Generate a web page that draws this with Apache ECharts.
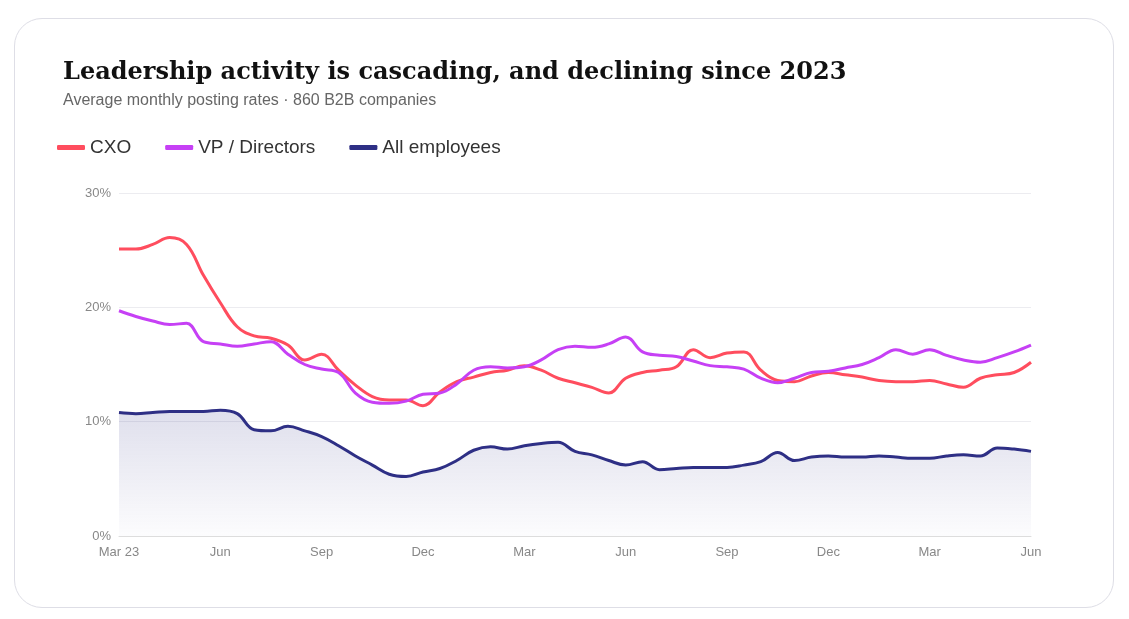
<!DOCTYPE html>
<html>
<head>
<meta charset="utf-8">
<script src="https://cdn.jsdelivr.net/npm/echarts@6/dist/echarts.min.js"></script>
<style>
  html, body { margin: 0; padding: 0; background: #fff; }
  .card { position: absolute; left: 14px; top: 18px; width: 1100px; height: 590px; border: 1px solid #dedee6; border-radius: 28px; box-sizing: border-box; }
  #chart { position: absolute; left: 0; top: 0; width: 1129px; height: 619px; }
</style>
</head>
<body>
<div class="card"></div>
<div id="chart"></div>
<script>
// half-month points, Mar 2023 .. Jun 2025
const monthNames = ['Mar 23', 'Jun', 'Sep', 'Dec', 'Mar', 'Jun', 'Sep', 'Dec', 'Mar', 'Jun'];
const cxo = [25.1, 25.1, 25.5, 26.1, 25.5, 22.8, 20.4, 18.3, 17.5, 17.3, 16.7, 15.4, 15.9, 14.5, 13.2, 12.2, 11.9, 11.9, 11.4, 12.6,
  13.5, 13.9, 14.3, 14.5, 14.9, 14.5, 13.8, 13.4, 13.0, 12.5, 13.8, 14.3, 14.5, 14.8, 16.3, 15.6, 16.0, 16.1, 14.5, 13.6,
  13.5, 14.0, 14.3, 14.1, 13.9, 13.6, 13.5, 13.5, 13.6, 13.3, 13.0, 13.8, 14.1, 14.3, 15.2];
const vp = [19.7, 19.2, 18.8, 18.5, 18.6, 17.0, 16.8, 16.6, 16.8, 17.0, 15.9, 15.0, 14.6, 14.3, 12.5, 11.7, 11.6, 11.8, 12.4, 12.5,
  13.3, 14.5, 14.8, 14.7, 14.8, 15.4, 16.3, 16.6, 16.5, 16.8, 17.4, 16.1, 15.8, 15.7, 15.3, 14.9, 14.8, 14.6, 13.8, 13.4,
  13.8, 14.3, 14.4, 14.7, 15.0, 15.6, 16.3, 15.9, 16.3, 15.8, 15.4, 15.2, 15.6, 16.1, 16.7];
const allEmp = [10.8, 10.7, 10.8, 10.9, 10.9, 10.9, 11.0, 10.7, 9.3, 9.2, 9.6, 9.2, 8.7, 7.9, 7.0, 6.2, 5.4, 5.2, 5.6, 5.9,
  6.6, 7.5, 7.8, 7.6, 7.9, 8.1, 8.2, 7.4, 7.1, 6.6, 6.2, 6.5, 5.8, 5.9, 6.0, 6.0, 6.0, 6.2, 6.5, 7.3,
  6.6, 6.9, 7.0, 6.9, 6.9, 7.0, 6.9, 6.8, 6.8, 7.0, 7.1, 7.0, 7.7, 7.6, 7.4];
const categories = cxo.map(function (v, i) { return i % 6 === 0 ? monthNames[i / 6] : ''; });

let chart = echarts.init(document.getElementById('chart'));
let option = {
  animation: false,
  title: {
    text: 'Leadership activity is cascading, and declining since 2023',
    subtext: 'Average monthly posting rates · 860 B2B companies',
    left: 58, top: 56,
    textStyle: { fontFamily: 'DejaVu Serif', fontWeight: 'bold', fontSize: 24, color: '#111' },
    subtextStyle: { fontFamily: 'Liberation Sans', fontSize: 16, color: '#666' },
    itemGap: 8
  },
  legend: {
    left: 52, top: 133,
    itemWidth: 28, itemHeight: 5, itemGap: 34,
    icon: 'roundRect',
    textStyle: { fontFamily: 'Liberation Sans', fontSize: 19, color: '#333' },
    data: ['CXO', 'VP / Directors', 'All employees']
  },
  grid: { left: 119, right: 98, top: 193, bottom: 83 },
  xAxis: {
    type: 'category', data: categories, boundaryGap: false,
    axisLine: { lineStyle: { color: '#ddd' } },
    axisTick: { show: false },
    axisLabel: { interval: 0, color: '#888', fontSize: 13, fontFamily: 'Liberation Sans', margin: 10 }
  },
  yAxis: {
    type: 'value', min: 0, max: 30, interval: 10,
    axisLabel: { formatter: '{value}%', color: '#888', fontSize: 13, fontFamily: 'Liberation Sans' },
    splitLine: { lineStyle: { color: '#ececf0' } }
  },
  series: [
    { name: 'CXO', type: 'line', data: cxo, smooth: 0.4, symbol: 'none', color: '#ff4d5e', lineStyle: { width: 3 } },
    { name: 'VP / Directors', type: 'line', data: vp, smooth: 0.4, symbol: 'none', color: '#c640f5', lineStyle: { width: 3 } },
    {
      name: 'All employees', type: 'line', data: allEmp, smooth: 0.4, symbol: 'none', color: '#2e2f85', lineStyle: { width: 3 },
      areaStyle: { color: new echarts.graphic.LinearGradient(0, 0, 0, 1, [
        { offset: 0, color: 'rgba(46,47,133,0.22)' }, { offset: 1, color: 'rgba(46,47,133,0.02)' }]) }
    }
  ]
};
chart.setOption(option);
</script>
</body>
</html>
